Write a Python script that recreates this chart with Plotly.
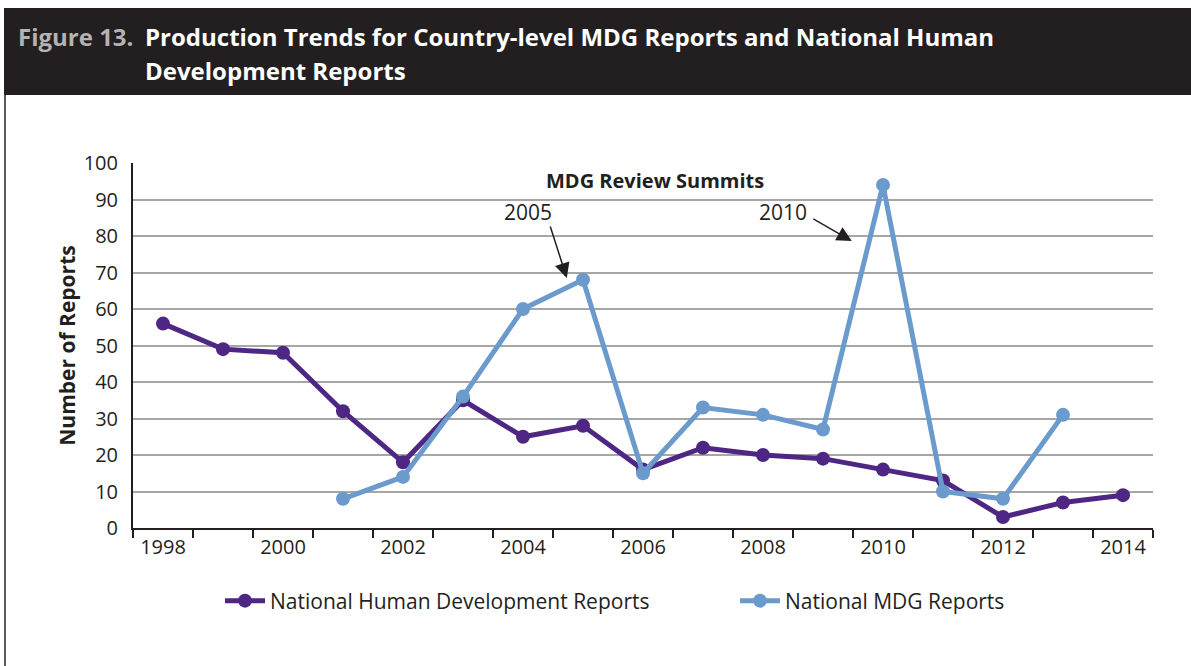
import plotly.graph_objects as go

W, H = 1191, 666
L, R, T, B = 133, 38, 163, 138

years = list(range(1998, 2015))
nhdr = [56, 49, 48, 32, 18, 35, 25, 28, 16, 22, 20, 19, 16, 13, 3, 7, 9]
mdg_years = list(range(2001, 2014))
mdg = [8, 14, 36, 60, 68, 15, 33, 31, 27, 94, 10, 8, 31]
tick_years = list(range(1998, 2015, 2))

PURPLE = '#4e2683'
BLUE = '#6b9bcd'
DARK = '#231f20'
FONT = 'Open Sans'


def px(x):
    return (x - L) / (W - L - R)


def py(y):
    return (H - B - y) / (H - T - B)


fig = go.Figure()

fig.add_trace(go.Scatter(
    x=years, y=nhdr, name='National Human Development Reports',
    mode='lines+markers',
    line=dict(color=PURPLE, width=5),
    marker=dict(color=PURPLE, size=14),
    legend='legend'
))
fig.add_trace(go.Scatter(
    x=mdg_years, y=mdg, name='National MDG Reports',
    mode='lines+markers',
    line=dict(color=BLUE, width=5),
    marker=dict(color=BLUE, size=14),
    legend='legend2'
))

# title bar and frame
fig.add_shape(type='rect', xref='paper', yref='paper',
              x0=px(4), x1=px(W), y0=py(95), y1=py(8),
              fillcolor=DARK, line_width=0, layer='below')
fig.add_shape(type='line', xref='paper', yref='paper',
              x0=px(5), x1=px(5), y0=py(95), y1=py(H),
              line=dict(color=DARK, width=1.5))

fig.add_annotation(xref='paper', yref='paper', x=px(16), y=py(36),
                   xanchor='left', yanchor='middle', showarrow=False,
                   text='<b>Figure 13.</b>',
                   font=dict(family=FONT, size=24, color='#b3b3b3'))
fig.add_annotation(xref='paper', yref='paper', x=px(143), y=py(36),
                   xanchor='left', yanchor='middle', showarrow=False,
                   text='<b>Production Trends for Country-level MDG Reports and National Human</b>',
                   font=dict(family=FONT, size=24, color='white'))
fig.add_annotation(xref='paper', yref='paper', x=px(143), y=py(71),
                   xanchor='left', yanchor='middle', showarrow=False,
                   text='<b>Development Reports</b>',
                   font=dict(family=FONT, size=24, color='white'))

# summit annotations
fig.add_annotation(x=2006.2, y=95.3, text='<b>MDG Review Summits</b>', showarrow=False,
                   font=dict(family=FONT, size=20, color=DARK))
fig.add_annotation(x=2004.08, y=86.6, text='2005', showarrow=False,
                   font=dict(family=FONT, size=21, color=DARK))
fig.add_annotation(x=2008.33, y=86.6, text='2010', showarrow=False,
                   font=dict(family=FONT, size=21, color=DARK))
fig.add_annotation(x=2004.73, y=68.5, ax=-17, ay=-53, text='', showarrow=True,
                   arrowhead=2, arrowsize=2, arrowwidth=1.5, arrowcolor=DARK)
fig.add_annotation(x=2009.48, y=78.6, ax=-40, ay=-23, text='', showarrow=True,
                   arrowhead=2, arrowsize=2, arrowwidth=1.5, arrowcolor=DARK)

legend_style = dict(orientation='h', xanchor='left', yanchor='middle',
                    y=py(601), bgcolor='rgba(0,0,0,0)',
                    font=dict(family=FONT, size=21, color=DARK),
                    itemwidth=40)

fig.update_layout(
    width=W, height=H,
    margin=dict(l=L, r=R, t=T, b=B),
    paper_bgcolor='white', plot_bgcolor='white',
    font=dict(family=FONT, size=20, color=DARK),
    showlegend=True,
    legend=dict(x=px(220), **legend_style),
    legend2=dict(x=px(735), **legend_style)
)

fig.update_xaxes(
    range=[1997.5, 2014.5],
    tickvals=tick_years, ticktext=[str(y) for y in tick_years],
    ticks='', showgrid=False, zeroline=False,
    showline=True, linecolor=DARK, linewidth=2,
    tickfont=dict(size=20, color=DARK),
    minor=dict(tick0=1997.5, dtick=1, ticks='outside', ticklen=8,
               tickcolor=DARK, tickwidth=1.5, showgrid=False)
)
fig.update_yaxes(
    range=[0, 100], dtick=10,
    showgrid=True, gridcolor='#a6a6a6', gridwidth=2,
    zeroline=False, showline=True, linecolor=DARK, linewidth=2,
    ticks='', ticklabelstandoff=9,
    tickfont=dict(size=20, color=DARK),
    title=dict(text='<b>Number of Reports</b>', standoff=2,
               font=dict(family=FONT, size=21, color=DARK))
)

fig.write_html('out.html', config={'displayModeBar': False},
               post_script="document.body.style.margin='0';")
